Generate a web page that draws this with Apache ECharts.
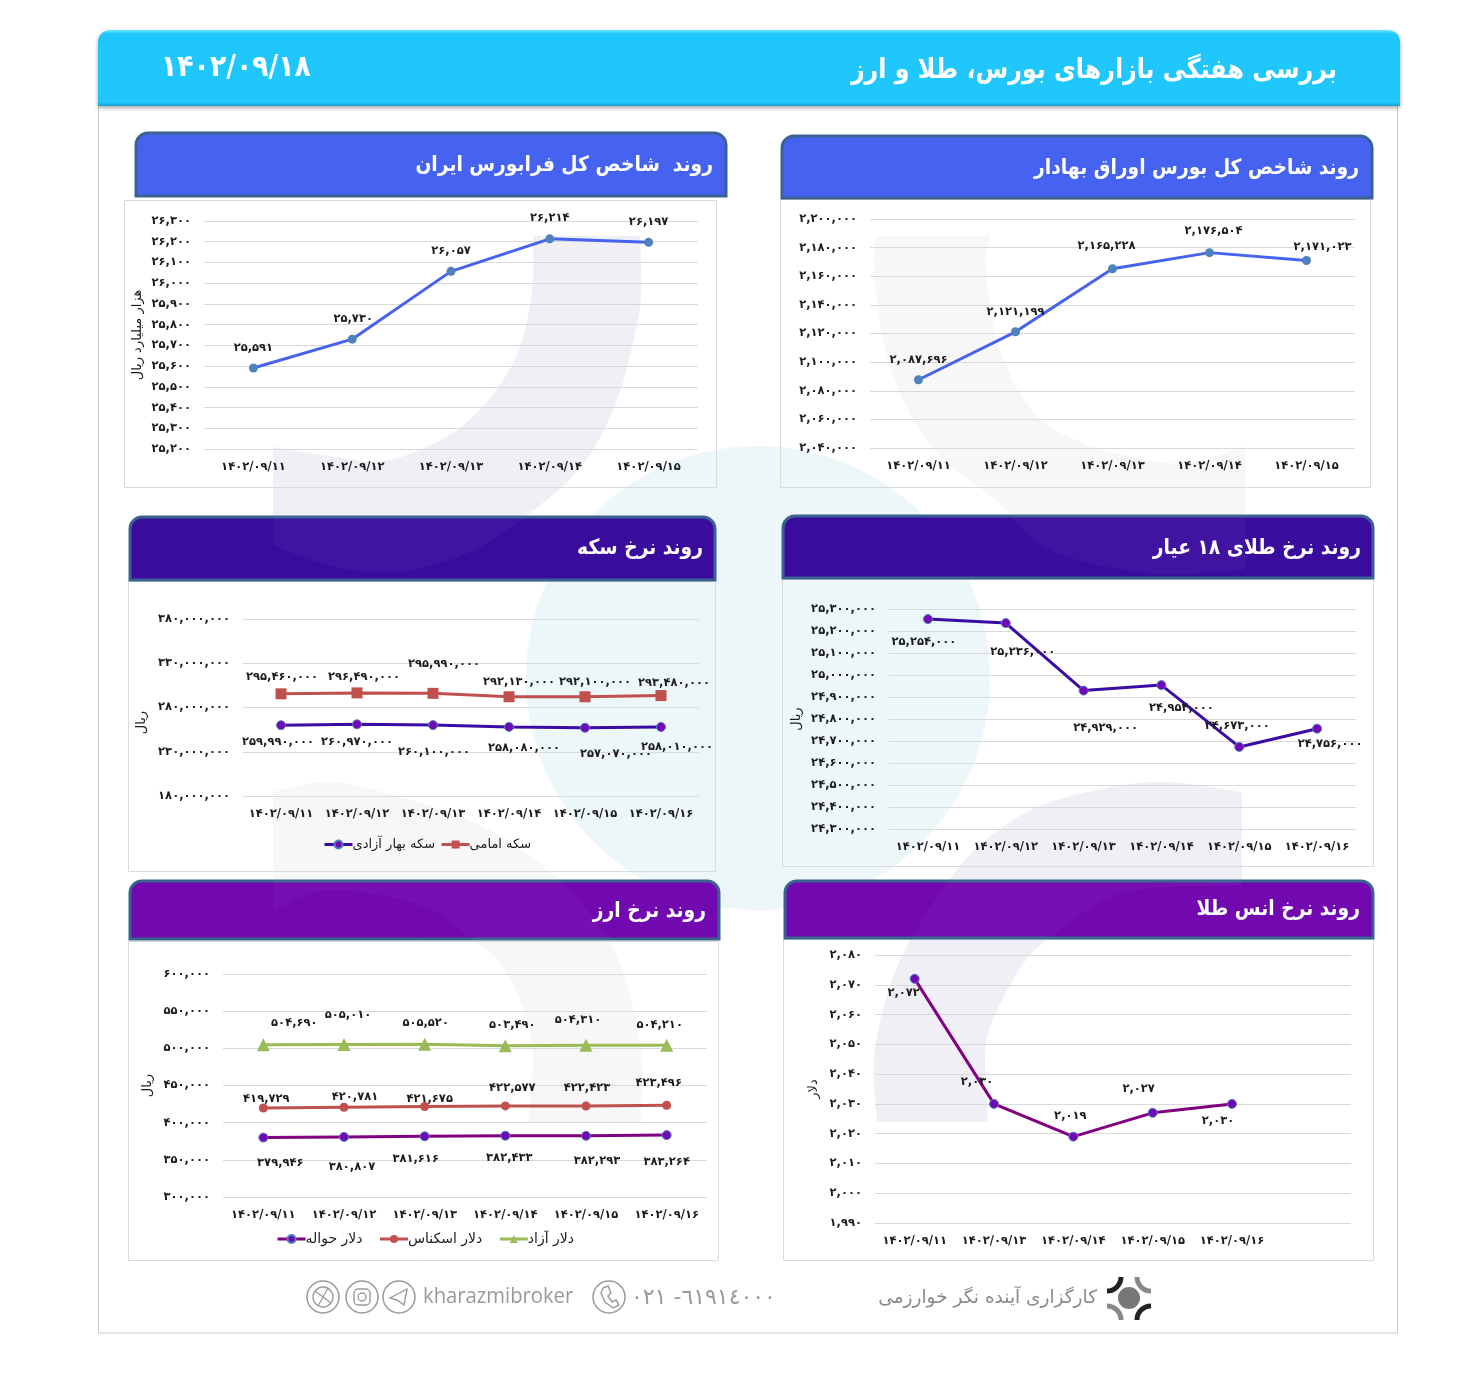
<!DOCTYPE html>
<html lang="fa"><head><meta charset="utf-8">
<style>html,body{margin:0;padding:0;background:#fff}#c{width:1482px;height:1376px}</style>
<script src="https://cdn.jsdelivr.net/npm/echarts@6/dist/echarts.min.js"></script>
</head><body><div id="c"></div>
<script>
// ---------- data ----------
const dates5 = ['۱۴۰۲/۰۹/۱۱','۱۴۰۲/۰۹/۱۲','۱۴۰۲/۰۹/۱۳','۱۴۰۲/۰۹/۱۴','۱۴۰۲/۰۹/۱۵'];
const dates6 = ['۱۴۰۲/۰۹/۱۱','۱۴۰۲/۰۹/۱۲','۱۴۰۲/۰۹/۱۳','۱۴۰۲/۰۹/۱۴','۱۴۰۲/۰۹/۱۵','۱۴۰۲/۰۹/۱۶'];
const datesOunce = ['۱۴۰۲/۰۹/۱۱','۱۴۰۲/۰۹/۱۳','۱۴۰۲/۰۹/۱۴','۱۴۰۲/۰۹/۱۵','۱۴۰۲/۰۹/۱۶',''];
const bourseIndex = [2087696,2121199,2165228,2176504,2171023];
const farabourseIndex = [25591,25730,26057,26214,26197];
const gold18 = [25254000,25236000,24929000,24954000,24673000,24756000];
const coinEmami = [295460000,296490000,295990000,292130000,292100000,293480000];
const coinBahar = [259990000,260970000,260100000,258080000,257070000,258010000];
const ounce = [2072,2030,2019,2027,2030];
const dollarFree = [504690,505010,505520,503490,504310,504210];
const dollarCash = [419729,420781,421675,422577,422423,423496];
const dollarRemit = [379946,380807,381616,382433,382293,383264];
const coinTicks = [180000000,230000000,280000000,330000000,380000000];

const pageTitle = 'بررسی هفتگی بازارهای بورس، طلا و ارز';
const pageDate = '۱۴۰۲/۰۹/۱۸';

// per-point label displacement from the marker
const offBourse = [[0,-20],[0,-20],[-6,-23],[4,-22],[16,-13]];
const offFara = [[0,-20],[1,-20],[0,-20],[0,-21],[0,-20]];
const offGold = [[-4,23],[17,29],[22,37],[20,23],[-2,-21],[13,15]];
const offEmami = [[1,-17],[7,-16],[11,-29],[10,-15],[10,-15],[13,-13]];
const offBahar = [[-3,17],[0,18],[1,27],[15,21],[31,26],[16,20]];
const offOunce = [[-11,14],[-17,-22],[-3,-21],[-14,-24],[-14,17]];
const offFree = [[31,-22],[4,-30],[1,-21],[7,-21],[-8,-25],[-7,-20]];
const offCash = [[3,-9],[11,-10],[5,-8],[7,-18],[1,-18],[-8,-22]];
const offRemit = [[17,25],[8,30],[-9,23],[4,22],[11,25],[0,27]];

// ---------- helpers ----------
const FONT = '"DejaVu Sans"';
const INK = '#1c1c1c';
const fa = v => Number(v).toLocaleString('en-US').replace(/\d/g, d => '۰۱۲۳۴۵۶۷۸۹'[d]);
function spline(pts, n) {
  n = n || 14;
  const out = [];
  for (let i = 0; i < pts.length - 1; i++) {
    const p0 = pts[Math.max(i - 1, 0)], p1 = pts[i], p2 = pts[i + 1], p3 = pts[Math.min(i + 2, pts.length - 1)];
    for (let k = 0; k < n; k++) {
      const t = k / n, t2 = t * t, t3 = t2 * t;
      out.push([0, 1].map(a => 0.5 * (2 * p1[a] + (p2[a] - p0[a]) * t + (2 * p0[a] - 5 * p1[a] + 4 * p2[a] - p3[a]) * t2 + (3 * p1[a] - p0[a] - 3 * p2[a] + p3[a]) * t3)));
    }
  }
  out.push(pts[pts.length - 1]);
  return out;
}
const LAV = '#EFEFF5', GRY = '#F7F7F8', TEAL = '#EDF6F8';
const shapes = [
  {c: LAV, p: spline([[640,236],[641,293],[635,333],[616,403],[581,467],[527,515],[470,552],[400,572],[330,566],[273,545]]).concat(spline([[273,447],[330,456],[390,460],[461,427],[511,367],[531,300],[533,236]]))},
  {c: GRY, p: spline([[875,236],[875,283],[892,373],[934,450],[996,500],[1050,550],[1147,573],[1245,570]]).concat(spline([[1245,447],[1166,463],[1050,427],[1000,350],[986,267],[990,236]]))},
  {c: GRY, p: spline([[273,792],[330,782],[400,797],[480,825],[556,877],[614,950],[640,1043],[641,1123]]).concat(spline([[528,1123],[532,1043],[507,973],[473,940],[420,905],[330,890],[273,910]]))},
  {c: LAV, p: spline([[1242,792],[1153,782],[1057,800],[1003,827],[957,870],[900,960],[875,1050],[877,1122]]).concat(spline([[988,1122],[985,1060],[990,1027],[1017,973],[1047,940],[1123,893],[1242,885]]))}
];
const panels = [
  {t:'روند شاخص کل بورس اوراق بهادار', bar:[781,135,592,64], box:[780,199,590,288], fill:'#4563F0', tx:1359, ty:169},
  {t:'روند  شاخص کل فرابورس ایران', bar:[135,132,592,65], box:[124,200,592,287], fill:'#4563F0', tx:713, ty:166},
  {t:'روند نرخ طلای ۱۸ عیار', bar:[782,515,592,64], box:[782,579,591,287], fill:'#3A0C9E', tx:1361, ty:549},
  {t:'روند نرخ سکه', bar:[129,516,587,65], box:[128,581,587,290], fill:'#3A0C9E', tx:703, ty:549},
  {t:'روند نرخ انس طلا', bar:[784,880,590,59], box:[783,939,590,321], fill:'#7209B0', tx:1360, ty:910},
  {t:'روند نرخ ارز', bar:[129,880,591,60], box:[128,941,590,319], fill:'#7209B0', tx:706, ty:912}
];

// ---------- decorative layer ----------
const g = [];
g.push({type:'circle', z:-5, silent:true, shape:{cx:758,cy:678,r:232}, style:{fill:TEAL}});
shapes.forEach(s => g.push({type:'polygon', z:-4, silent:true, shape:{points:s.p}, style:{fill:s.c}}));
g.push({type:'rect', z:-3, silent:true, shape:{x:98.5,y:100,width:1299,height:1233}, style:{fill:'none',stroke:'#C9C9C9',lineWidth:1}});
panels.forEach(p => {
  g.push({type:'rect', z:-2, silent:true, shape:{x:p.box[0]+.5,y:p.box[1]+.5,width:p.box[2],height:p.box[3]}, style:{fill:'none',stroke:'#DADADA',lineWidth:1}});
  g.push({type:'rect', z:-1, silent:true, shape:{x:p.bar[0]+1,y:p.bar[1]+1,width:p.bar[2]-2,height:p.bar[3]-2,r:[12,12,0,0]}, style:{fill:p.fill,stroke:'#3A6290',lineWidth:3}});
});
shapes.forEach(s => g.push({type:'polygon', z:-1, silent:true, shape:{points:s.p}, style:{fill:'rgba(255,255,255,0.03)'}}));
panels.forEach(p => g.push({type:'text', z:1, silent:true, x:p.tx, y:p.ty, scaleX:.89, style:{text:p.t, fill:'#fff', font:'bold 21px '+FONT, textAlign:'right', textVerticalAlign:'middle'}}));
// page header
g.push({type:'rect', z:2, silent:true, shape:{x:98,y:30,width:1302,height:76,r:[12,12,0,0]},
  style:{fill:{type:'linear',x:0,y:0,x2:0,y2:1,colorStops:[{offset:0,color:'#6CE8FF'},{offset:.05,color:'#20C7FD'},{offset:.95,color:'#20C7FD'},{offset:1,color:'#1A9FCB'}]},
    shadowBlur:4, shadowColor:'rgba(0,0,0,.35)', shadowOffsetY:2}});
g.push({type:'text', z:3, silent:true, x:1337, y:71, scaleX:.88, style:{text:pageTitle, fill:'#fff', font:'bold 27px '+FONT, textAlign:'right', textVerticalAlign:'middle'}});
g.push({type:'text', z:3, silent:true, x:161, y:68, scaleX:.89, style:{text:pageDate, fill:'#fff', font:'bold 30px '+FONT, textAlign:'left', textVerticalAlign:'middle'}});
// footer
const FG = '#9a9a9a';
g.push({type:'text', x:1097, y:1298, silent:true, style:{text:'کارگزاری آینده نگر خوارزمی', fill:'#8a8a8a', font:'18.5px '+FONT, textAlign:'right', textVerticalAlign:'middle'}});
g.push({type:'circle', silent:true, shape:{cx:1129,cy:1298,r:11}, style:{fill:'#777'}});
[[1107,1277,0,Math.PI/2,'#222'],[1151,1277,Math.PI/2,Math.PI,'#888'],[1107,1320,-Math.PI/2,0,'#888'],[1151,1320,Math.PI,Math.PI*1.5,'#222']].forEach(a=>g.push({type:'arc', silent:true, shape:{cx:a[0],cy:a[1],r:14,startAngle:a[2],endAngle:a[3],clockwise:true}, style:{stroke:a[4],lineWidth:5,fill:'none'}}));
g.push({type:'text', x:423, y:1297, scaleX:.92, silent:true, style:{text:'kharazmibroker', fill:'#999', font:'22px "Open Sans"', textAlign:'left', textVerticalAlign:'middle'}});
g.push({type:'text', x:631, y:1298, silent:true, style:{text:'\u202D٠٢١ -٦١٩١٤٠٠٠\u202C', fill:'#999', font:'22px '+FONT, textAlign:'left', textVerticalAlign:'middle'}});
[[609,1297],[399,1297],[362,1297],[323,1297]].forEach(c=>g.push({type:'circle', silent:true, shape:{cx:c[0],cy:c[1],r:16}, style:{fill:'none',stroke:FG,lineWidth:1.5}}));
g.push({type:'polyline', silent:true, shape:{points:[[603,1288],[608,1286],[611,1293],[608,1296],[612,1302],[616,1300],[619,1305],[613,1308],[605,1302],[601,1293],[603,1288]]}, style:{fill:'none',stroke:FG,lineWidth:1.4}});
g.push({type:'polygon', silent:true, shape:{points:[[390,1298],[407,1289],[404,1305],[397,1300]]}, style:{fill:'none',stroke:FG,lineWidth:1.4}});
g.push({type:'rect', silent:true, shape:{x:354,y:1289,width:16,height:16,r:4}, style:{fill:'none',stroke:FG,lineWidth:1.4}});
g.push({type:'circle', silent:true, shape:{cx:362,cy:1297,r:4}, style:{fill:'none',stroke:FG,lineWidth:1.4}});
g.push({type:'circle', silent:true, shape:{cx:323,cy:1297,r:10}, style:{fill:'none',stroke:FG,lineWidth:1.4}});
g.push({type:'line', silent:true, shape:{x1:315,y1:1291,x2:331,y2:1303}, style:{stroke:FG,lineWidth:1.2}});
g.push({type:'line', silent:true, shape:{x1:328,y1:1288,x2:318,y2:1306}, style:{stroke:FG,lineWidth:1.2}});

// ---------- charts ----------
const grids = [
  {left:870,top:219,width:485,height:229},
  {left:204,top:221,width:494,height:228},
  {left:889,top:609,width:467,height:220},
  {left:243,top:619,width:456,height:177},
  {left:875,top:955,width:476,height:268},
  {left:223,top:974,width:484,height:223}
];
const xCats = [dates5,dates5,dates6,dates6,datesOunce,dates6];
const yCfg = [
  {min:2040000,max:2200000,interval:20000},
  {min:25200,max:26300,interval:100,name:'هزار میلیارد ریال',nameGap:60},
  {min:24300000,max:25300000,interval:100000,name:'ریال',nameGap:86},
  {min:180000000,max:380000000,custom:coinTicks,name:'ریال',nameGap:95,shift:30},
  {min:1990,max:2080,interval:10,name:'دلار',nameGap:55},
  {min:300000,max:600000,interval:50000,name:'ریال',nameGap:69}
];
const xAxis = xCats.map((c,i)=>({type:'category',gridIndex:i,data:c,boundaryGap:true,
  axisLine:{show:false},axisTick:{show:false},splitLine:{show:false},
  axisLabel:{color:INK,fontFamily:FONT,fontWeight:'bold',fontSize:11.5,margin:12,interval:0}}));
const yAxis = yCfg.map((y,i)=>{
  const a = {type:'value',gridIndex:i,min:y.min,max:y.max,axisLine:{show:false},axisTick:{show:false},
    splitLine:{show:true,lineStyle:{color:'#D9D9D9',width:1}},
    axisLabel:{color:INK,fontFamily:FONT,fontWeight:'bold',fontSize:11.5,margin:13,formatter:fa}};
  if (y.interval) a.interval = y.interval;
  if (y.custom) { a.axisLabel.customValues = y.custom; a.axisTick.customValues = y.custom; a.splitLine.customValues = y.custom; }
  if (y.name) { a.name = y.name; a.nameLocation='middle'; a.nameRotate=90; a.nameGap=y.nameGap;
    a.nameTextStyle={color:INK,fontFamily:FONT,fontSize:13,padding:[0,y.shift||0,0,0]}; }
  return a;
});
function line(gi,name,vals,offs,color,mark){
  return Object.assign({type:'line',name,xAxisIndex:gi,yAxisIndex:gi,animation:false,
    symbol:mark.symbol||'circle',symbolSize:mark.size||9,z:3,
    lineStyle:{color,width:mark.width||3},
    itemStyle:{color:mark.color||color,borderColor:mark.border||mark.color||color,borderWidth:mark.border?1:0},
    label:{show:true,position:'inside',color:INK,fontFamily:FONT,fontWeight:'bold',fontSize:11.5,formatter:p=>fa(p.value)},
    data:vals.map((v,i)=>({value:v,label:{offset:offs[i]}}))});
}
const BLUEP='#4F81BD', VIO='#7209B7';
const series=[
  line(0,'شاخص کل',bourseIndex,offBourse,'#4563F0',{color:BLUEP}),
  line(1,'شاخص فرابورس',farabourseIndex,offFara,'#4563F0',{color:BLUEP}),
  line(2,'طلای ۱۸ عیار',gold18,offGold,'#3A0CA3',{color:VIO,border:BLUEP}),
  line(3,'سکه بهار آزادی',coinBahar,offBahar,'#3A0CA3',{color:VIO,border:BLUEP}),
  line(3,'سکه امامی',coinEmami,offEmami,'#C0504D',{symbol:'rect',size:11}),
  line(4,'انس طلا',ounce,offOunce,'#800080',{color:VIO,border:BLUEP}),
  line(5,'دلار حواله',dollarRemit,offRemit,'#800080',{color:VIO,border:BLUEP}),
  line(5,'دلار اسکناس',dollarCash,offCash,'#C0504D',{}),
  line(5,'دلار آزاد',dollarFree,offFree,'#9BBB59',{symbol:'triangle',size:13})
];
const legendBase={orient:'horizontal',itemWidth:28,itemHeight:10,lineStyle:{width:3}};
const legendText=s=>({color:INK,fontFamily:FONT,fontSize:s,padding:[0,0,0,-5]});
const legend=[
  Object.assign({left:318,top:833,itemGap:5,textStyle:legendText(13),data:['سکه بهار آزادی','سکه امامی']},legendBase),
  Object.assign({left:271,top:1227,itemGap:16,textStyle:legendText(14),data:['دلار حواله','دلار اسکناس','دلار آزاد']},legendBase)
];
const chart=echarts.init(document.getElementById('c'),null,{renderer:'canvas',width:1482,height:1376});
chart.setOption({animation:false,backgroundColor:'#fff',textStyle:{fontFamily:FONT},tooltip:{show:false},grid:grids,xAxis,yAxis,series,legend,graphic:{elements:g}});
</script></body></html>
